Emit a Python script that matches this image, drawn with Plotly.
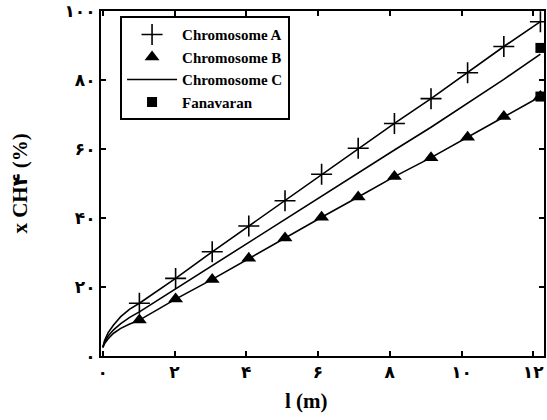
import plotly.graph_objects as go

# Mole fraction of CH4 along the reactor length
dist_line = [0.0, 0.05, 0.15, 0.3, 0.5, 0.75,
             1.02, 2.03, 3.05, 4.07, 5.08, 6.10, 7.12, 8.13, 9.15, 10.17, 11.18, 12.20]
dist_mark = [1.02, 2.03, 3.05, 4.07, 5.08, 6.10, 7.12, 8.13, 9.15, 10.17, 11.18, 12.20]

chrom_a_line = [2.5, 4.5, 6.8, 9.0, 11.4, 13.6,
                15.3, 22.5, 30.2, 37.7, 45.0, 52.7, 60.2, 67.4, 74.6, 82.1, 89.7, 96.9]
chrom_b_line = [2.5, 3.6, 5.0, 6.6, 8.0, 9.3,
                10.4, 16.5, 22.2, 28.3, 34.2, 40.2, 46.1, 52.0, 57.5, 63.4, 69.4, 75.2]
chrom_c_line = [2.5, 4.0, 5.8, 7.6, 9.4, 11.2,
                12.8, 19.5, 26.2, 33.0, 39.6, 46.4, 53.1, 59.7, 66.3, 73.2, 80.2, 87.5]

chrom_a_mark = [15.3, 22.5, 30.2, 37.7, 45.0, 52.7, 60.2, 67.4, 74.6, 82.1, 89.7, 96.9]
chrom_b_mark = [10.4, 16.5, 22.2, 28.3, 34.2, 40.2, 46.1, 52.0, 57.5, 63.4, 69.4, 75.2]

fanavaran_x = [12.20, 12.20]
fanavaran_y = [89.3, 75.2]

x_tickvals = [0, 2, 4, 6, 8, 10, 12]
x_ticktext = ["۰", "۲", "۴", "۶", "۸", "۱۰", "۱۲"]
y_tickvals = [0, 20, 40, 60, 80, 100]
y_ticktext = ["۰", "۲۰", "۴۰", "۶۰", "۸۰", "۱۰۰"]

BLACK = "black"
FONT = "Liberation Serif, DejaVu Serif, DejaVu Sans, serif"


def bold(labels):
    return ["<b>%s</b>" % t for t in labels]


fig = go.Figure()

# plain curves through the marker points
for ys in (chrom_a_line, chrom_b_line):
    fig.add_trace(go.Scatter(x=dist_line, y=ys, mode="lines",
                             line=dict(color=BLACK, width=1.6),
                             showlegend=False, hoverinfo="skip"))

fig.add_trace(go.Scatter(x=dist_mark, y=chrom_a_mark, mode="markers",
                         name="<b>Chromosome A</b>",
                         marker=dict(symbol="cross-thin", size=15, color=BLACK,
                                     line=dict(color=BLACK, width=1.6))))
fig.add_trace(go.Scatter(x=dist_mark, y=chrom_b_mark, mode="markers",
                         name="<b>Chromosome B</b>",
                         marker=dict(symbol="triangle-up", size=13, color=BLACK)))
fig.add_trace(go.Scatter(x=dist_line, y=chrom_c_line, mode="lines",
                         name="<b>Chromosome C</b>",
                         line=dict(color=BLACK, width=1.6)))
fig.add_trace(go.Scatter(x=fanavaran_x, y=fanavaran_y, mode="markers",
                         name="<b>Fanavaran</b>",
                         marker=dict(symbol="square", size=10, color=BLACK)))

axis_common = dict(showline=True, linecolor=BLACK, linewidth=2, mirror="ticks",
                   ticks="inside", ticklen=5, tickwidth=2, tickcolor=BLACK,
                   showgrid=False, zeroline=False,
                   tickfont=dict(family=FONT, size=17, color=BLACK))

fig.update_xaxes(range=[-0.05, 12.3], tickvals=x_tickvals, ticktext=bold(x_ticktext),
                 **axis_common)
fig.update_yaxes(range=[0, 100], tickvals=y_tickvals, ticktext=bold(y_ticktext),
                 **axis_common)

fig.update_layout(
    width=547, height=420,
    margin=dict(l=101, r=1, t=11, b=64),
    paper_bgcolor="white", plot_bgcolor="white",
    font=dict(family=FONT, color=BLACK),
    showlegend=True,
    legend=dict(x=0.043, y=0.985, xanchor="left", yanchor="top",
                bgcolor="white", bordercolor=BLACK, borderwidth=2,
                font=dict(family=FONT, size=15, color=BLACK),
                itemwidth=50),
    annotations=[
        dict(text="<b>l (m)</b>", xref="paper", yref="paper", x=0.465, y=-0.13,
             xanchor="center", yanchor="middle", showarrow=False,
             font=dict(family=FONT, size=21, color=BLACK)),
        dict(text="<b>x CH۴ (%)</b>", xref="paper", yref="paper", x=-0.185, y=0.5,
             xanchor="center", yanchor="middle", textangle=-90, showarrow=False,
             font=dict(family=FONT, size=21, color=BLACK)),
    ],
)

fig.write_html("out.html")
